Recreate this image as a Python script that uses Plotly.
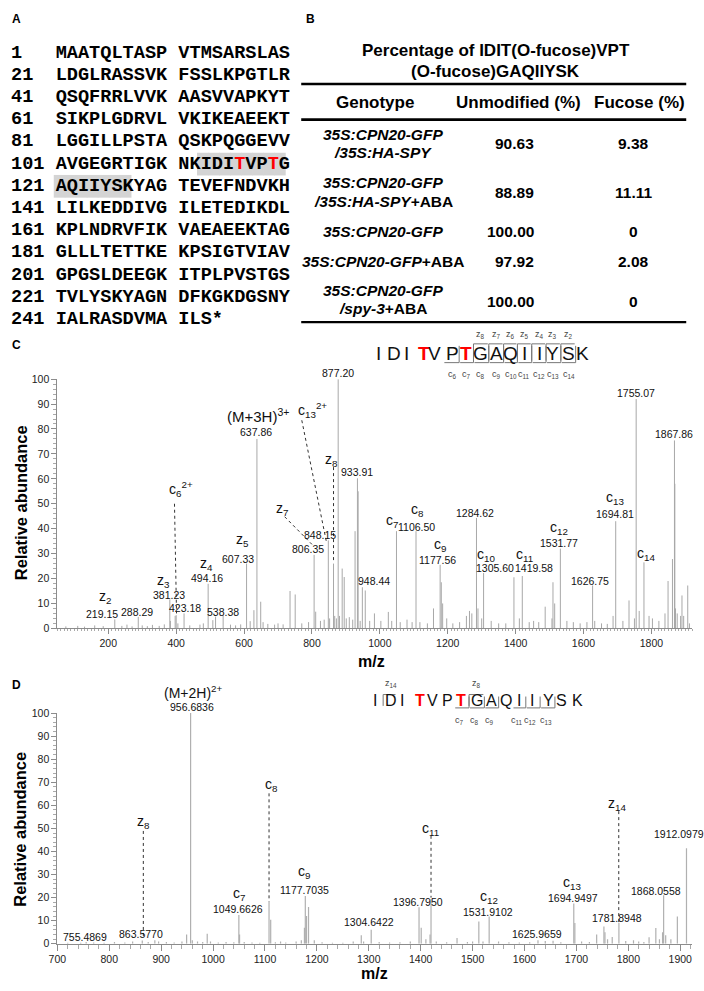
import plotly.graph_objects as go

W, H = 704, 991

# ---------------- Panel A data ----------------
seq_start = [1, 21, 41, 61, 81, 101, 121, 141, 161, 181, 201, 221, 241]
seq_block1 = ["MAATQLTASP", "LDGLRASSVK", "QSQFRRLVVK", "SIKPLGDRVL", "LGGILLPSTA",
              "AVGEGRTIGK", "AQIIYSKYAG", "LILKEDDIVG", "KPLNDRVFIK", "GLLLTETTKE",
              "GPGSLDEEGK", "TVLYSKYAGN", "IALRASDVMA"]
seq_block2 = ["VTMSARSLAS", "FSSLKPGTLR", "AASVVAPKYT", "VKIKEAEEKT", "QSKPQGGEVV",
              "NKIDITVPTG", "TEVEFNDVKH", "ILETEDIKDL", "VAEAEEKTAG", "KPSIGTVIAV",
              "ITPLPVSTGS", "DFKGKDGSNY", "ILS*"]
peptide_first, peptide_last = 113, 127
fucose_sites = [116, 119]

# ---------------- Panel B data ----------------
table_title = ["Percentage of IDIT(O-fucose)VPT", "(O-fucose)GAQIIYSK"]
table_header = ["Genotype", "Unmodified (%)", "Fucose (%)"]
genotype_lines = [
    ["<i>35S:CPN20-GFP</i>", "<i>/35S:HA-SPY</i>"],
    ["<i>35S:CPN20-GFP</i>", "<i>/35S:HA-SPY</i>+ABA"],
    ["<i>35S:CPN20-GFP</i>"],
    ["<i>35S:CPN20-GFP</i>+ABA"],
    ["<i>35S:CPN20-GFP</i>", "<i>/spy-3</i>+ABA"],
]
unmodified_pct = ["90.63", "88.89", "100.00", "97.92", "100.00"]
fucose_pct = ["9.38", "11.11", "0", "2.08", "0"]

# ---------------- Panel C data ----------------
peptide = "IDITVPTGAQIIYSK"
red_residues = [4, 7]
c_ions_C = [6, 7, 8, 9, 10, 11, 12, 13, 14]
z_ions_C = [8, 7, 6, 5, 4, 3, 2]
c_ions_D = [7, 8, 9, 11, 12, 13]
z_ions_D = [14, 8]

C_mz = [75, 110, 130, 160, 185, 219.15, 240, 255, 270, 288.29, 300, 315, 330, 350, 365,
        381.23, 383, 397, 400, 405, 423.18, 440, 470, 480, 494.16, 508, 516, 538.38, 560,
        575, 590, 607.33, 618, 629, 637.86, 649, 656, 670, 690, 700, 715, 735.40, 750.6,
        770, 790, 806.35, 811, 825, 836, 848.15, 852, 863.5, 867, 872, 877.20, 881, 889,
        895, 901, 910, 920, 927, 933.91, 936, 942, 948.44, 957, 970, 984, 1003, 1025,
        1035, 1049, 1060, 1080, 1095, 1106.50, 1118, 1140, 1158, 1177.56, 1181, 1185, 1197,
        1215, 1235, 1255, 1264, 1271, 1284.62, 1289, 1300, 1305.60, 1328, 1350, 1371,
        1395, 1411, 1419.58, 1440, 1453, 1468, 1487, 1507, 1510, 1515, 1531.77, 1551, 1570,
        1590, 1610, 1626.75, 1633, 1653, 1670, 1687, 1694.81, 1716, 1734, 1750, 1755.07,
        1764, 1778, 1793, 1803, 1822, 1840, 1849, 1862, 1867.86, 1869, 1871, 1876, 1886,
        1890, 1895, 1907, 1912]
C_int = [0.8, 1.0, 0.7, 1.2, 0.9, 3.6, 1.0, 1.5, 0.8, 4.6, 1.2, 0.9, 1.4, 1.0, 1.6,
         11.6, 3.0, 5.0, 5.3, 2.0, 6.0, 1.2, 1.5, 2.0, 17.9, 3.3, 4.7, 5.3, 1.5,
         1.2, 1.6, 26.0, 2.9, 7.3, 76.0, 10.7, 2.5, 1.8, 1.5, 2.0, 1.6, 15.0, 13.6,
         2.0, 2.5, 29.5, 6.7, 3.0, 3.5, 35.3, 4.0, 26.0, 5.0, 4.0, 100.0, 5.0, 24.0,
         20.6, 4.0, 4.5, 3.5, 39.0, 60.2, 55.0, 3.0, 16.5, 15.2, 3.0, 6.0, 3.0, 6.6,
         3.0, 39.0, 2.5, 3.5, 2.5, 39.0, 2.5, 2.0, 8.0, 25.5, 18.5, 10.0, 4.0,
         2.0, 2.5, 5.0, 7.0, 6.0, 44.3, 8.0, 4.0, 22.2, 3.0, 2.0, 2.0,
         20.5, 4.0, 21.0, 2.5, 3.0, 2.5, 8.7, 4.0, 18.5, 10.0, 32.0, 3.0, 2.5,
         2.0, 2.5, 17.2, 3.0, 2.0, 1.8, 5.0, 43.0, 3.0, 11.2, 4.0, 92.0,
         7.0, 26.5, 5.0, 4.0, 3.0, 6.0, 19.0, 27.8, 75.4, 58.0, 8.0, 6.0, 5.0,
         13.2, 5.0, 17.2, 2.0]
C_xticks = [200, 400, 600, 800, 1000, 1200, 1400, 1600, 1800]
y_ticks = [0, 10, 20, 30, 40, 50, 60, 70, 80, 90, 100]

# ---------------- Panel D data ----------------
D_mz = [720, 745, 755.49, 770, 790, 810, 830, 845, 863.58, 875, 887.8, 895, 910, 925, 940,
        949, 956.68, 960, 970, 980, 988.7, 995, 1010, 1025, 1040, 1049.66, 1051, 1060,
        1075, 1090, 1107.8, 1111, 1120, 1130, 1140, 1160, 1170, 1176, 1177.70, 1180,
        1183.9, 1195, 1210, 1230, 1250, 1270, 1285.5, 1290, 1304.64, 1320, 1340, 1360,
        1380, 1396.80, 1401, 1410, 1418, 1419.9, 1430, 1450, 1470, 1490, 1500, 1512,
        1520, 1531.91, 1550, 1570, 1590, 1610, 1625.97, 1640, 1655, 1670, 1694.95, 1697,
        1710, 1725, 1739, 1753, 1755, 1760, 1769, 1781.89, 1795, 1810, 1820, 1830, 1840,
        1853, 1860, 1866, 1868.06, 1872, 1882, 1894.5, 1912.10]
D_int = [0.5, 0.5, 0.8, 0.6, 0.5, 0.8, 0.6, 1.0, 1.4, 0.8, 1.5, 1.0, 0.8, 0.6, 1.0,
         4.0, 100.0, 1.5, 1.0, 0.8, 4.4, 1.0, 0.6, 0.8, 0.7, 12.5, 4.0, 0.8,
         0.6, 0.5, 18.2, 10.4, 0.7, 1.0, 0.6, 1.0, 1.5, 7.0, 20.7, 12.0,
         16.0, 1.5, 0.7, 0.5, 0.5, 1.0, 3.7, 1.0, 6.1, 0.8, 0.6, 0.7,
         1.0, 15.8, 7.0, 2.0, 4.0, 19.4, 1.0, 0.7, 2.5, 0.8, 1.0, 9.7,
         1.0, 11.8, 1.0, 0.7, 0.6, 0.7, 1.5, 1.2, 1.3, 0.7, 17.5, 9.0,
         1.0, 0.8, 4.0, 7.5, 5.0, 2.0, 3.0, 9.0, 1.2, 1.5, 1.0, 0.8, 2.8,
         6.8, 2.0, 5.0, 21.0, 3.7, 2.0, 11.8, 41.4]
D_xticks = [700, 800, 900, 1000, 1100, 1200, 1300, 1400, 1500, 1600, 1700, 1800, 1900]

# ---------------- helpers ----------------
annotations, shapes = [], []
SANS = "Liberation Sans"


def P(x, y):
    return x / W, 1 - y / H


def txt(s, x, y, size, color="#000", bold=False, family=SANS, xanchor="center",
        yanchor="middle", angle=0, italic=False):
    xx, yy = P(x, y)
    annotations.append(dict(
        text=s, x=xx, y=yy, xref="paper", yref="paper", showarrow=False,
        xanchor=xanchor, yanchor=yanchor, textangle=angle, borderpad=0,
        align="left" if xanchor == "left" else "center",
        font=dict(family=family, size=size, color=color,
                  weight="bold" if bold else "normal",
                  style="italic" if italic else "normal")))


def seg(x0, y0, x1, y1, color="#000", width=1, dash="solid"):
    a, b = P(x0, y0)
    c, d = P(x1, y1)
    shapes.append(dict(type="line", xref="paper", yref="paper", x0=a, y0=b, x1=c, y1=d,
                       line=dict(color=color, width=width, dash=dash)))


def dseg(xr, yr, x0, y0, x1, y1):
    shapes.append(dict(type="line", xref=xr, yref=yr, x0=x0, y0=y0, x1=x1, y1=y1,
                       line=dict(color="#333", width=1, dash="dot")))


def sticks(mz, inten):
    xs, ys = [], []
    for m, i in zip(mz, inten):
        xs += [m, m, None]
        ys += [0, i, None]
    return xs, ys


# ---------------- Panel labels ----------------
for lab, x, y in [("A", 8, 13), ("B", 305, 13), ("C", 8, 343), ("D", 8, 687)]:
    txt(lab, x, y, 12, bold=True)

# ---------------- Panel A ----------------
NB = "\u00a0"
cw = 11.16
x0 = 1.0
row_y0, row_dy = 47.7, 22.47
for r, (st, b1, b2) in enumerate(zip(seq_start, seq_block1, seq_block2)):
    parts = []
    for blk_i, blk in enumerate([b1, b2]):
        for i, ch in enumerate(blk):
            resid = st + blk_i * 10 + i
            if resid in fucose_sites:
                parts.append("<span style='color:#ff0000'>%s</span>" % ch)
            else:
                parts.append(ch)
            if peptide_first <= resid <= peptide_last:
                col = 4 + blk_i * 11 + i
                xa = x0 + col * cw
                yc = row_y0 + r * row_dy
                a, b = P(xa - 0.3, yc - 11.5)
                c, d = P(xa + cw + 0.3, yc + 11.5)
                shapes.append(dict(type="rect", xref="paper", yref="paper", x0=a, y0=d, x1=c, y1=b,
                                   fillcolor="#d4d4d4", line=dict(width=0), layer="below"))
        if blk_i == 0:
            parts.append(NB)
    label = str(st).ljust(4).replace(" ", NB)
    txt(label + "".join(parts), x0, row_y0 + r * row_dy, 18.6, bold=True,
        family="Liberation Mono", xanchor="left")

# ---------------- Panel B ----------------
txt(table_title[0], 493, 45, 17, bold=True)
txt(table_title[1], 493, 66, 17, bold=True)
seg(296, 79, 686, 79, width=2.6)
seg(296, 115, 686, 115, width=2.6)
seg(296, 320, 686, 320, width=2.2)
txt(table_header[0], 371, 98, 17, bold=True)
txt(table_header[1], 516, 98, 17, bold=True)
txt(table_header[2], 639, 98, 17, bold=True)
row_line_y = [[130, 148.5], [179, 198], [228], [258.3], [288.3, 306]]
row_val_y = [139.5, 188.5, 228, 258.3, 299]
for lines, ys, yv, u, f in zip(genotype_lines, row_line_y, row_val_y, unmodified_pct, fucose_pct):
    for ln, yy in zip(lines, ys):
        txt(ln, 379, yy, 15.5, bold=True)
    txt(u, 533, yv, 15.5, bold=True, xanchor="right")
    txt(f, 633, yv, 15.5, bold=True)


# ---------------- Peptide ladders ----------------
def ladder(xs, y, size, top, bot, c_ions, z_ions, lab_y_c, lab_y_z, lab_size, cdx=0):
    n = len(peptide)
    bounds = [None] * (n + 1)
    for i in range(1, n):
        bounds[i] = (xs[i - 1] + xs[i]) / 2
    bounds[0] = xs[0] - (xs[1] - xs[0]) / 2
    bounds[n] = xs[-1] + (xs[-1] - xs[-2]) / 2
    for i, ch in enumerate(peptide):
        if i in [r - 1 for r in red_residues]:
            txt(ch, xs[i], y, size, color="#ff0000", bold=True)
        else:
            txt(ch, xs[i], y, size, color="#111")
    for cn in c_ions:
        i = cn - 1
        seg(bounds[i] + 1, bot, bounds[i + 1], bot, color="#777", width=1)
        seg(bounds[i + 1], bot, bounds[i + 1], top + 2, color="#777", width=1)
        txt("c<sub>%d</sub>" % cn, xs[i] + cdx, lab_y_c, lab_size, color="#444")
    for zn in z_ions:
        i = n - zn
        seg(bounds[i], top, bounds[i + 1] - 1, top, color="#777", width=1)
        seg(bounds[i], top, bounds[i], bot - 2, color="#777", width=1)
        txt("z<sub>%d</sub>" % zn, xs[i], lab_y_z, lab_size, color="#444")


ladder_C_x = [374, 390, 403, 420, 431, 449, 463, 478, 494, 508, 522, 537, 551, 567, 581]
ladder(ladder_C_x, 351.5, 19, 342, 361, c_ions_C, z_ions_C, 373, 333, 9)
ladder_D_x = [371, 387, 398, 416, 429, 444, 458, 474, 489, 503, 517, 530, 546, 560, 576]
ladder(ladder_D_x, 703.5, 16, 697, 710.5, c_ions_D, z_ions_D, 723.3, 686, 9, cdx=-2)

# ---------------- Spectrum labels ----------------
LS = 10.5
IS = 14
C_labels = [
    ("z<sub>2</sub>", 97, 598, IS), ("219.15", 94.5, 615.5, LS), ("288.29", 130, 613, LS),
    ("z<sub>3</sub>", 157, 582, IS), ("381.23", 162, 596.5, LS), ("423.18", 178, 609, LS),
    ("c<sub>6</sub><sup>2+</sup>", 174, 489, IS), ("z<sub>4</sub>", 200, 565, IS),
    ("494.16", 201, 579, LS), ("538.38", 217, 613, LS), ("z<sub>5</sub>", 237, 541, IS),
    ("607.33", 232, 559.5, LS), ("(M+3H)<sup>3+</sup>", 252, 415, 15), ("637.86", 250, 431, LS),
    ("c<sub>13</sub><sup>2+</sup>", 307, 409, IS), ("z<sub>7</sub>", 277, 509, IS),
    ("806.35", 302.7, 550, LS), ("848.15", 315, 535, LS), ("z<sub>8</sub>", 327, 460, IS),
    ("877.20", 333.3, 372, LS), ("933.91", 352, 472, LS), ("948.44", 370, 582, LS),
    ("c<sub>7</sub>", 388, 521, IS), ("c<sub>8</sub>", 414, 510, IS), ("1106.50", 412.7, 527.5, LS),
    ("c<sub>9</sub>", 436.7, 546, IS), ("1177.56", 434.3, 560.5, LS), ("1284.62", 472.3, 513, LS),
    ("c<sub>10</sub>", 483.3, 555.5, IS), ("1305.60", 492.7, 569, LS),
    ("c<sub>11</sub>", 521.7, 555.5, IS), ("1419.58", 532.3, 569, LS),
    ("c<sub>12</sub>", 557.3, 528.5, IS), ("1531.77", 556.7, 543.5, LS), ("1626.75", 589, 582.5, LS),
    ("c<sub>13</sub>", 614.3, 498.5, IS), ("1694.81", 614.3, 514.5, LS), ("1755.07", 635, 392, LS),
    ("c<sub>14</sub>", 645, 555, IS), ("1867.86", 673.3, 433.5, LS),
]
for s, x, y, sz in C_labels:
    txt(s, x, y, sz, color="#111")

D_labels = [
    ("(M+2H)<sup>2+</sup>", 186.7, 694.5, 14), ("956.6836", 185, 709.3, LS),
    ("z<sub>8</sub>", 136, 826, IS), ("755.4869", 77, 942.7, LS), ("863.5770", 134, 939.3, LS),
    ("c<sub>8</sub>", 265.7, 789, IS), ("c<sub>7</sub>", 233.3, 899, IS), ("1049.6626", 231.7, 914, LS),
    ("c<sub>9</sub>", 299.3, 876.5, IS), ("1177.7035", 299.3, 895, LS), ("1304.6422", 365, 927.7, LS),
    ("1396.7950", 414, 906.7, LS), ("c<sub>11</sub>", 427.3, 833, IS), ("c<sub>12</sub>", 486, 901.5, IS),
    ("1531.9102", 485, 916.7, LS), ("1625.9659", 535, 939, LS), ("c<sub>13</sub>", 570, 888, IS),
    ("1694.9497", 571, 902.7, LS), ("1781.8948", 616, 923.3, LS), ("z<sub>14</sub>", 615.7, 808, IS),
    ("1868.0558", 655, 895.7, LS), ("1912.0979", 679, 838.3, LS),
]
for s, x, y, sz in D_labels:
    txt(s, x, y, sz, color="#111")

# dashed leader lines (data coordinates)
dseg("x", "y", 395, 50, 401, 6)
dseg("x", "y", 770, 83.5, 843, 34.4)
dseg("x", "y", 719.5, 44.8, 800, 33.7)
dseg("x", "y", 863.5, 64.7, 863.5, 26.6)
dseg("x2", "y2", 865.6, 48.9, 865.6, 3.0)
dseg("x2", "y2", 1107.8, 65.2, 1107.8, 18.2)
dseg("x2", "y2", 1419.9, 46.8, 1419.9, 20.0)
dseg("x2", "y2", 1781.6, 57.5, 1781.6, 9.1)

# axis titles
txt("Relative abundance", 12.5, 503, 16.5, bold=True, angle=-90)
txt("m/z", 367, 664, 16, bold=True)
txt("Relative abundance", 11, 833, 16.5, bold=True, angle=-90)
txt("m/z", 370, 979.5, 16, bold=True)

# ---------------- traces ----------------
fig = go.Figure()
cx, cy = sticks(C_mz, C_int)
fig.add_trace(go.Scatter(x=cx, y=cy, mode="lines", line=dict(color="#a8a8a8", width=1),
                         hoverinfo="skip", showlegend=False, xaxis="x", yaxis="y"))
dx, dy = sticks(D_mz, D_int)
fig.add_trace(go.Scatter(x=dx, y=dy, mode="lines", line=dict(color="#b0b0b0", width=1.2),
                         hoverinfo="skip", showlegend=False, xaxis="x2", yaxis="y2"))

axc = dict(showgrid=False, zeroline=False, showline=True, linecolor="#8c8c8c", linewidth=1,
           ticks="outside", tickcolor="#8c8c8c", fixedrange=True,
           tickfont=dict(family=SANS, size=10.5, color="#222"))

fig.update_layout(
    width=W, height=H, margin=dict(l=0, r=0, t=0, b=0),
    paper_bgcolor="white", plot_bgcolor="white", showlegend=False,
    xaxis=dict(**axc, domain=[49 / W, 692 / W], range=[50, 1920], anchor="y",
               tickvals=C_xticks, ticklen=5,
               minor=dict(dtick=10, ticks="outside", ticklen=2, tickcolor="#aaaaaa")),
    yaxis=dict(**axc, domain=[1 - 630 / H, 1 - 377.7 / H], range=[0, 100], anchor="x",
               tickvals=y_ticks, ticklen=5,
               minor=dict(dtick=2, ticks="outside", ticklen=3, tickcolor="#aaaaaa")),
    xaxis2=dict(**axc, domain=[49 / W, 692 / W], range=[700, 1923], anchor="y2",
                tickvals=D_xticks, ticklen=6,
                minor=dict(dtick=20, ticks="outside", ticklen=4, tickcolor="#aaaaaa")),
    yaxis2=dict(**axc, domain=[1 - 949.3 / H, 1 - 715.7 / H], range=[0, 100], anchor="x2",
                tickvals=y_ticks, ticklen=5,
                minor=dict(dtick=2, ticks="outside", ticklen=3, tickcolor="#aaaaaa")),
    annotations=annotations, shapes=shapes,
)

fig.write_html("out.html", config={"displayModeBar": False},
               post_script="document.body.style.margin='0';document.body.style.padding='0';")
